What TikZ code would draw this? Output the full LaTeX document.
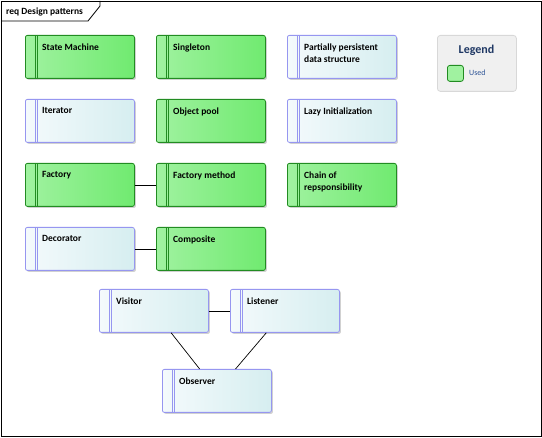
\documentclass[tikz,border=0pt]{standalone}
\usepackage{fontspec}
\setmainfont{Carlito}
\usetikzlibrary{shadows}
\definecolor{usedL}{RGB}{160,242,160}
\definecolor{usedR}{RGB}{112,234,112}
\definecolor{usedB}{RGB}{34,140,34}
\definecolor{plainL}{RGB}{244,250,252}
\definecolor{plainR}{RGB}{214,238,240}
\definecolor{plainB}{RGB}{150,150,240}
\definecolor{legendtitle}{RGB}{31,56,100}
\definecolor{legendtext}{RGB}{47,85,151}
\tikzset{
  pattern/.style={rectangle, rounded corners=2pt, minimum width=109pt, minimum height=43pt,
    inner sep=0pt, anchor=north west, line width=0.8pt,
    drop shadow={shadow xshift=1.5pt, shadow yshift=-1.5pt, opacity=0.18, fill=black}},
  used/.style={pattern, draw=usedB, left color=usedL, right color=usedR,
    path picture={\draw[usedB, line width=0.7pt]
      ([xshift=10pt]path picture bounding box.north west) -- ([xshift=10pt]path picture bounding box.south west)
      ([xshift=12pt]path picture bounding box.north west) -- ([xshift=12pt]path picture bounding box.south west);}},
  plain/.style={pattern, draw=plainB, left color=plainL, right color=plainR,
    path picture={\draw[plainB, line width=0.7pt]
      ([xshift=10pt]path picture bounding box.north west) -- ([xshift=10pt]path picture bounding box.south west)
      ([xshift=12pt]path picture bounding box.north west) -- ([xshift=12pt]path picture bounding box.south west);}},
  title/.style={anchor=north west, inner sep=0pt, align=left, font=\bfseries\fontsize{9.5}{12.5}\selectfont},
  link/.style={draw=black, line width=0.7pt},
}
\newcommand{\pat}[5]{%
  \node[#1] (#2) at (#3) {};
  \node[title] (#2t) at ([xshift=17pt,yshift=-8.5pt]#2.north west) {#4#5};
}
\begin{document}
\begin{tikzpicture}[x=1pt,y=-1pt]
\useasboundingbox (0,0) rectangle (542,438);
\fill[white] (0,0) rectangle (542,438);
% diagram frame and its name tab
\draw[line width=0.8pt] (1,1) rectangle (541,436);
\draw[line width=0.8pt] (1,21) -- (88,21) -- (100,6) -- (100,1);
\node[anchor=west, inner sep=0pt, font=\bfseries\fontsize{9.5}{11}\selectfont] (frame) at (6,11.5) {req Design patterns};

% patterns
\pat{used}{sm}{25,35}{State Machine}{}
\pat{used}{single}{156,35}{Singleton}{}
\pat{plain}{pp}{287,35}{Partially persistent\\data structure}{}
\pat{plain}{iter}{25,99}{Iterator}{}
\pat{used}{pool}{156,99}{Object pool}{}
\pat{plain}{lazy}{287,99}{Lazy Initialization}{}
\pat{used}{fac}{25,163}{Factory}{}
\pat{used}{fm}{156,163}{Factory method}{}
\pat{used}{chain}{287,163}{Chain of\\repsponsibility}{}
\pat{plain}{dec}{25,227}{Decorator}{}
\pat{used}{comp}{156,227}{Composite}{}
\pat{plain}{vis}{99,289}{Visitor}{}
\pat{plain}{lis}{230,289}{Listener}{}
\pat{plain}{obs}{162,369}{Observer}{}

% relations
\draw[link] (fac) -- (fm);
\draw[link] (dec) -- (comp);
\draw[link] (vis) -- (lis);
\draw[link] (vis) -- (obs);
\draw[link] (lis) -- (obs);

% legend
\node[rectangle, rounded corners=3pt, draw={rgb,255:red,216;green,216;blue,216}, fill={rgb,255:red,240;green,240;blue,240},
  minimum width=79pt, minimum height=56pt, anchor=north west, line width=0.8pt] (legend) at (437,35) {};
\node[font=\bfseries\fontsize{12}{14}\selectfont, text=legendtitle, inner sep=0pt] (legendt) at (476.5,50) {Legend};
\node[rectangle, rounded corners=2.5pt, draw=usedB, fill=usedL, minimum width=16pt, minimum height=16pt,
  anchor=north west, line width=0.8pt, inner sep=0pt] (swatch) at (447,65) {};
\node[anchor=west, inner sep=0pt, font=\fontsize{8}{10}\selectfont, text=legendtext] (usedt) at (469,73) {Used};
\end{tikzpicture}
\end{document}
